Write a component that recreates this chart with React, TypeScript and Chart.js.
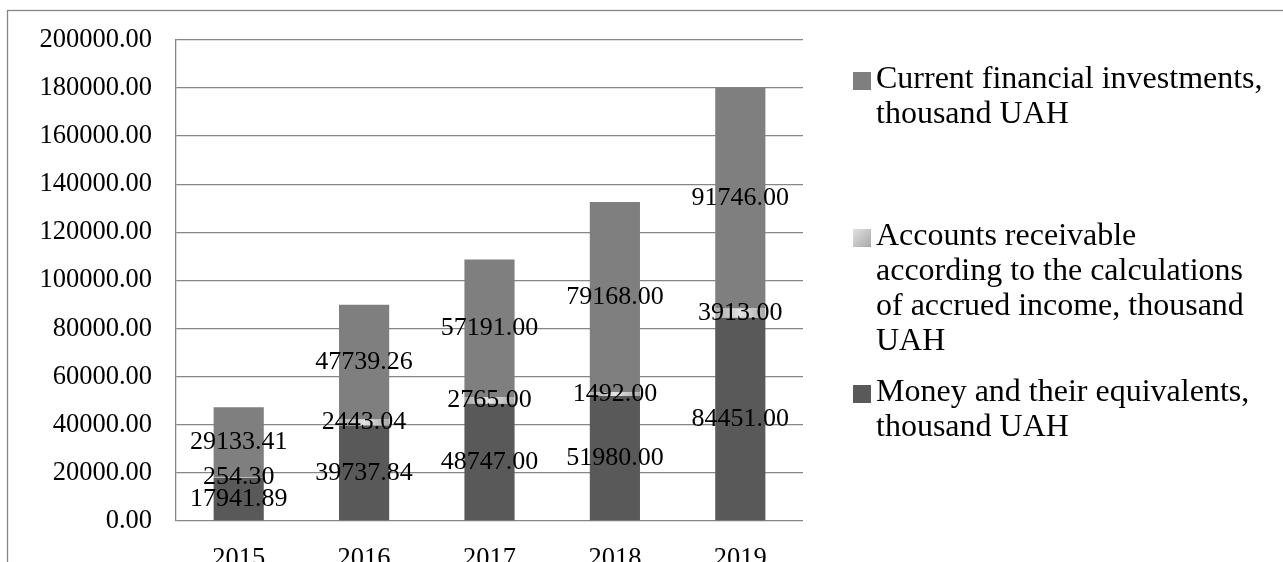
import React, { useEffect, useRef } from "react";
import { Chart, registerables } from "chart.js";

Chart.register(...registerables);

// Years on the category axis
const years = ["2015", "2016", "2017", "2018", "2019"];

// Stacked series, bottom to top (thousand UAH)
const moneyValues = [17941.89, 39737.84, 48747.0, 51980.0, 84451.0];
const receivableValues = [254.3, 2443.04, 2765.0, 1492.0, 3913.0];
const investmentValues = [29133.41, 47739.26, 57191.0, 79168.0, 91746.0];

const seriesLabels = [
  "Money and their equivalents, thousand UAH",
  "Accounts receivable according to the calculations of accrued income, thousand UAH",
  "Current financial investments, thousand UAH",
];

// Value axis range
const yMin = 0;
const yMax = 200000;
const yStep = 20000;

const SERIF = '"Liberation Serif", "Times New Roman", Times, serif';
const LINE = "#868686";
const MONEY_COLOR = "#595959";
const RECEIVABLE_COLOR = "#bfbfbf";
const INVEST_COLOR = "#7f7f7f";

// Horizontal light sheen across each bar of the receivables series
function receivableFill(context: any) {
  const chart = context.chart;
  const xScale = chart.scales && chart.scales.x;
  if (!chart.chartArea || !xScale) return RECEIVABLE_COLOR;
  const cx = xScale.getPixelForValue(context.dataIndex);
  const half = (xScale.width / years.length) * 0.4 / 2;
  const g = chart.ctx.createLinearGradient(cx - half, 0, cx + half, 0);
  g.addColorStop(0, "#a9a9a9");
  g.addColorStop(0.5, "#e4e4e4");
  g.addColorStop(1, "#a9a9a9");
  return g;
}

// Thin frame around the whole chart
const framePlugin = {
  id: "frame",
  beforeDraw(chart: any) {
    const ctx = chart.ctx;
    ctx.save();
    ctx.fillStyle = "#ffffff";
    ctx.fillRect(0, 0, chart.width, chart.height);
    ctx.strokeStyle = LINE;
    ctx.lineWidth = 1.3;
    ctx.strokeRect(7.5, 10.5, chart.width + 20, chart.height + 20);
    ctx.restore();
  },
};

// Value written in the middle of every stacked segment
const valueLabelPlugin = {
  id: "valueLabels",
  afterDatasetsDraw(chart: any) {
    const ctx = chart.ctx;
    ctx.save();
    ctx.font = `26px ${SERIF}`;
    ctx.fillStyle = "#000000";
    ctx.textAlign = "center";
    ctx.textBaseline = "middle";
    chart.data.datasets.forEach((ds: any, di: number) => {
      const meta = chart.getDatasetMeta(di);
      meta.data.forEach((bar: any, i: number) => {
        const v = ds.data[i] as number;
        const y = (bar.y + bar.base) / 2;
        ctx.fillText(v.toFixed(2), bar.x, y);
      });
    });
    ctx.restore();
  },
};

// Legend on the right, wrapped over several lines, top series first
const sideLegendPlugin = {
  id: "sideLegend",
  afterDraw(chart: any) {
    const ctx = chart.ctx;
    const boxX = 853;
    const textX = 876;
    const box = 18;
    const lineH = 34.7;
    const maxW = 390;
    const firstLineCenters = [80, 237, 393];
    ctx.save();
    ctx.font = `32px ${SERIF}`;
    ctx.fillStyle = "#000000";
    ctx.textAlign = "left";
    ctx.textBaseline = "middle";
    const order = chart.data.datasets.map((_: any, i: number) => i).reverse();
    order.forEach((di: number, k: number) => {
      const ds = chart.data.datasets[di];
      const words = String(ds.label).split(" ");
      const lines: string[] = [];
      let cur = "";
      words.forEach((w) => {
        const test = cur ? cur + " " + w : w;
        if (cur && ctx.measureText(test).width > maxW) {
          lines.push(cur);
          cur = w;
        } else {
          cur = test;
        }
      });
      if (cur) lines.push(cur);
      const y0 = firstLineCenters[k];
      // swatch
      if (di === 1) {
        const g = ctx.createLinearGradient(boxX, y0 - box / 2, boxX + box, y0 + box / 2);
        g.addColorStop(0, "#e4e4e4");
        g.addColorStop(1, "#a9a9a9");
        ctx.fillStyle = g;
      } else {
        ctx.fillStyle = ds.legendColor;
      }
      ctx.fillRect(boxX, y0 - box / 2 + 1, box, box);
      ctx.fillStyle = "#000000";
      lines.forEach((ln, li) => {
        ctx.fillText(ln, textX, y0 + li * lineH);
      });
    });
    ctx.restore();
  },
};

export default function App() {
  const canvasRef = useRef<HTMLCanvasElement | null>(null);

  useEffect(() => {
    if (!canvasRef.current) return;
    const chart = new Chart(canvasRef.current, {
      type: "bar",
      data: {
        labels: years,
        datasets: [
          {
            label: seriesLabels[0],
            data: moneyValues,
            backgroundColor: MONEY_COLOR,
            legendColor: MONEY_COLOR,
          } as any,
          {
            label: seriesLabels[1],
            data: receivableValues,
            backgroundColor: receivableFill,
            legendColor: RECEIVABLE_COLOR,
          } as any,
          {
            label: seriesLabels[2],
            data: investmentValues,
            backgroundColor: INVEST_COLOR,
            legendColor: INVEST_COLOR,
          } as any,
        ],
      },
      options: {
        animation: false,
        responsive: true,
        maintainAspectRatio: false,
        datasets: {
          bar: {
            barPercentage: 0.4,
            categoryPercentage: 1.0,
            borderWidth: 0,
          },
        },
        layout: { padding: { top: 35, right: 480, bottom: 0, left: 0 } },
        plugins: {
          legend: { display: false },
          tooltip: { enabled: false },
        },
        scales: {
          x: {
            stacked: true,
            grid: { display: false },
            border: { display: false },
            ticks: {
              color: "#000000",
              font: { family: SERIF, size: 26.5 },
              padding: 14,
              maxRotation: 0,
            },
            afterFit(scale: any) {
              scale.height = 79;
            },
          },
          y: {
            stacked: true,
            min: yMin,
            max: yMax,
            ticks: {
              stepSize: yStep,
              color: "#000000",
              font: { family: SERIF, size: 26.5 },
              padding: 24,
              callback: (v: any) => Number(v).toFixed(2),
            },
            grid: { color: LINE, lineWidth: 1.3, drawTicks: false },
            border: { display: true, color: LINE, width: 1.3 },
            afterFit(scale: any) {
              scale.width = 176;
            },
          },
        },
      },
      plugins: [framePlugin, valueLabelPlugin, sideLegendPlugin],
    });
    return () => chart.destroy();
  }, []);

  return (
    <div
      style={{
        position: "fixed",
        left: 0,
        top: 0,
        width: 1283,
        height: 562,
        overflow: "hidden",
        background: "#ffffff",
      }}
    >
      <div style={{ position: "relative", width: 1283, height: 600 }}>
        <canvas ref={canvasRef} />
      </div>
    </div>
  );
}
